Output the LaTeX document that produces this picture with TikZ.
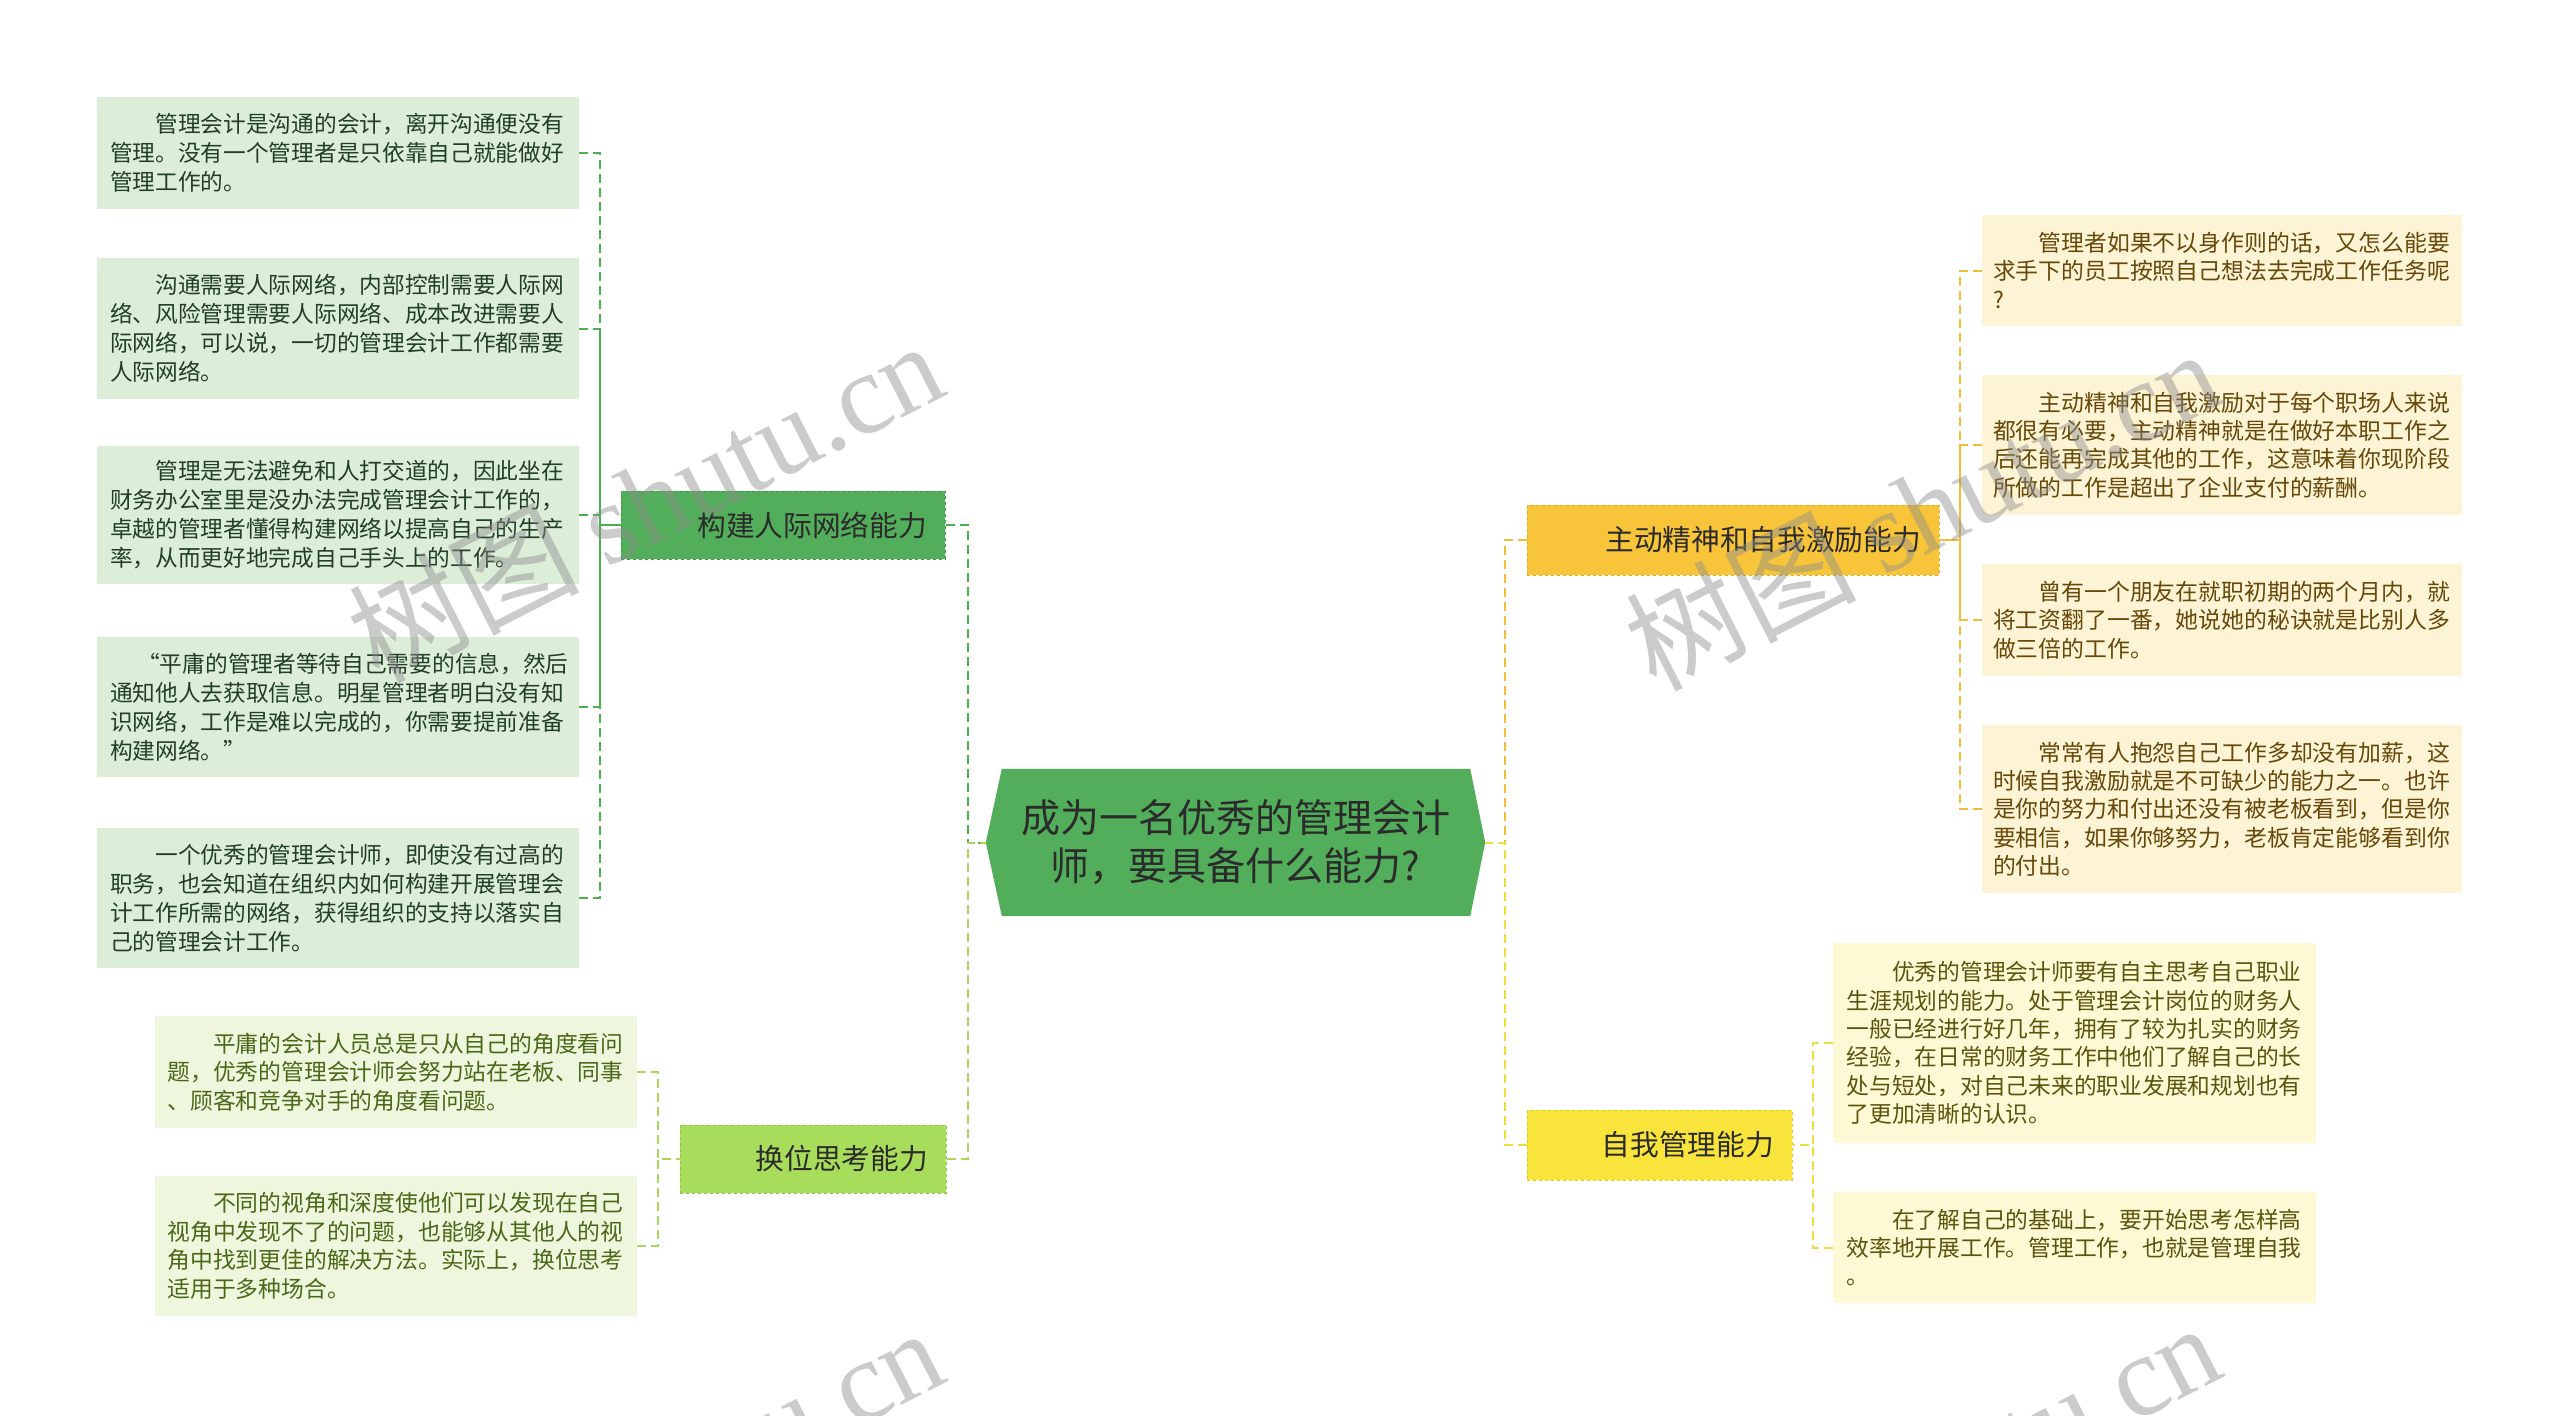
\documentclass[tikz,border=0pt]{standalone}
\usepackage{fontspec}
\setmainfont{Noto Sans CJK SC}
\newfontfamily\cjk{Noto Sans CJK SC}
\newfontfamily\wmserif{Liberation Serif}
\usetikzlibrary{backgrounds}
\definecolor{mainFill}{HTML}{52AE5A}
\definecolor{darkText}{HTML}{2B2B2B}
\definecolor{aFill}{HTML}{52AE5A}
\definecolor{aBorder}{HTML}{3F9A47}
\definecolor{aLeaf}{HTML}{DCEDD8}
\definecolor{aText}{HTML}{223D28}
\definecolor{aLine}{HTML}{4CAF50}
\definecolor{bFill}{HTML}{A8DD5C}
\definecolor{bBorder}{HTML}{8FC444}
\definecolor{bLeaf}{HTML}{EEF7DD}
\definecolor{bText}{HTML}{4A6818}
\definecolor{bLine}{HTML}{A8D85A}
\definecolor{cFill}{HTML}{F8C53A}
\definecolor{cBorder}{HTML}{E6AE20}
\definecolor{cLeaf}{HTML}{FDF3D5}
\definecolor{cText}{HTML}{664808}
\definecolor{cLine}{HTML}{F2BE3A}
\definecolor{dFill}{HTML}{F8E43A}
\definecolor{dBorder}{HTML}{E0CC20}
\definecolor{dLeaf}{HTML}{FDF9D5}
\definecolor{dText}{HTML}{5A540C}
\definecolor{dLine}{HTML}{EEDD3A}
\begin{document}
\begin{tikzpicture}[x=1pt,y=-1pt,
  leafbase/.style={rectangle, inner sep=0pt, align=left},
  aleaf/.style={leafbase, fill=aLeaf, text=aText, minimum width=482pt, text width=456pt, font=\fontsize{22.7}{29}\selectfont},
  bleaf/.style={leafbase, fill=bLeaf, text=bText, minimum width=482pt, text width=457pt, font=\fontsize{22.8}{28.5}\selectfont},
  cleaf/.style={leafbase, fill=cLeaf, text=cText, minimum width=480pt, text width=458pt, font=\fontsize{22.85}{28.3}\selectfont},
  dleaf/.style={leafbase, fill=dLeaf, text=dText, minimum width=483pt, text width=456pt, font=\fontsize{22.75}{28.3}\selectfont},
  branch/.style={rectangle, inner xsep=18pt, inner ysep=0pt, align=right, text=darkText, dashed, line width=1pt, font=\fontsize{28.7}{34}\selectfont},
  conn/.style={line width=2pt, dash pattern=on 9pt off 5pt},
  wm/.style={rotate=27, text=black!45, opacity=0.45, font=\fontsize{115}{120}\selectfont, inner sep=0pt}
]
\useasboundingbox (0,0) rectangle (2560,1416);
\begin{pgfonlayer}{background}
\fill[white] (0,0) rectangle (2560,1416);
\end{pgfonlayer}

% central node
\node[rectangle, minimum width=499pt, minimum height=147pt, inner sep=0pt, align=center, text=darkText, font=\fontsize{39}{48}\selectfont] (main) at (1235.5,842.5) {成为一名优秀的管理会计\\师，要具备什么能力?};
\begin{pgfonlayer}{background}
\fill[mainFill] (main.west) -- ([xshift=16pt]main.north west) -- ([xshift=-15pt]main.north east) -- (main.east) -- ([xshift=-15pt]main.south east) -- ([xshift=16pt]main.south west) -- cycle;
\end{pgfonlayer}

% branch nodes
\node[branch, fill=aFill, draw=aBorder, text width=288pt, minimum height=68pt] (bA) at (783,525) {构建人际网络能力};
\node[branch, fill=bFill, draw=bBorder, text width=230pt, minimum height=68pt] (bB) at (813,1159) {换位思考能力};
\node[branch, fill=cFill, draw=cBorder, text width=376pt, minimum height=70pt] (bC) at (1733,540) {主动精神和自我激励能力};
\node[branch, fill=dFill, draw=dBorder, text width=229pt, minimum height=70pt] (bD) at (1659.5,1145) {自我管理能力};

% leaves: 构建人际网络能力
\node[aleaf, minimum height=112pt] (a1) at (338,153) {\hspace*{2em}管理会计是沟通的会计，离开沟通便没有\\管理。没有一个管理者是只依靠自己就能做好\\管理工作的。};
\node[aleaf, minimum height=141pt] (a2) at (338,328.5) {\hspace*{2em}沟通需要人际网络，内部控制需要人际网\\络、风险管理需要人际网络、成本改进需要人\\际网络，可以说，一切的管理会计工作都需要\\人际网络。};
\node[aleaf, minimum height=138pt] (a3) at (338,515) {\hspace*{2em}管理是无法避免和人打交道的，因此坐在\\财务办公室里是没办法完成管理会计工作的，\\卓越的管理者懂得构建网络以提高自己的生产\\率，从而更好地完成自己手头上的工作。};
\node[aleaf, minimum height=140pt] (a4) at (338,707) {\hspace*{1.2em}“平庸的管理者等待自己需要的信息，然后\\通知他人去获取信息。明星管理者明白没有知\\识网络，工作是难以完成的，你需要提前准备\\构建网络。”};
\node[aleaf, minimum height=140pt] (a5) at (338,898) {\hspace*{2em}一个优秀的管理会计师，即使没有过高的\\职务，也会知道在组织内如何构建开展管理会\\计工作所需的网络，获得组织的支持以落实自\\己的管理会计工作。};

% leaves: 换位思考能力
\node[bleaf, minimum height=112pt] (b1) at (396,1072) {\hspace*{2em}平庸的会计人员总是只从自己的角度看问\\题，优秀的管理会计师会努力站在老板、同事\\、顾客和竞争对手的角度看问题。};
\node[bleaf, minimum height=140pt] (b2) at (396,1246) {\hspace*{2em}不同的视角和深度使他们可以发现在自己\\视角中发现不了的问题，也能够从其他人的视\\角中找到更佳的解决方法。实际上，换位思考\\适用于多种场合。};

% leaves: 主动精神和自我激励能力
\node[cleaf, minimum height=111pt] (c1) at (2222,270.5) {\hspace*{2em}管理者如果不以身作则的话，又怎么能要\\求手下的员工按照自己想法去完成工作任务呢\\?};
\node[cleaf, minimum height=140pt] (c2) at (2222,445) {\hspace*{2em}主动精神和自我激励对于每个职场人来说\\都很有必要，主动精神就是在做好本职工作之\\后还能再完成其他的工作，这意味着你现阶段\\所做的工作是超出了企业支付的薪酬。};
\node[cleaf, minimum height=112pt] (c3) at (2222,620) {\hspace*{2em}曾有一个朋友在就职初期的两个月内，就\\将工资翻了一番，她说她的秘诀就是比别人多\\做三倍的工作。};
\node[cleaf, minimum height=168pt] (c4) at (2222,809) {\hspace*{2em}常常有人抱怨自己工作多却没有加薪，这\\时候自我激励就是不可缺少的能力之一。也许\\是你的努力和付出还没有被老板看到，但是你\\要相信，如果你够努力，老板肯定能够看到你\\的付出。};

% leaves: 自我管理能力
\node[dleaf, minimum height=200pt] (d1) at (2074.5,1043) {\hspace*{2em}优秀的管理会计师要有自主思考自己职业\\生涯规划的能力。处于管理会计岗位的财务人\\一般已经进行好几年，拥有了较为扎实的财务\\经验，在日常的财务工作中他们了解自己的长\\处与短处，对自己未来的职业发展和规划也有\\了更加清晰的认识。};
\node[dleaf, minimum height=111pt] (d2) at (2074.5,1247.5) {\hspace*{2em}在了解自己的基础上，要开始思考怎样高\\效率地开展工作。管理工作，也就是管理自我\\。};

% connectors: main spine
\draw[conn, aLine] (bA.east) -- ++(22,0) |- (main.west);
\draw[conn, bLine] (bB.east) -- ++(21,0) |- (main.west);
\draw[conn, cLine] (bC.west) -- ++(-22,0) |- (main.east);
\draw[conn, dLine] (bD.west) -- ++(-22,0) |- (main.east);

% connectors: leaves
\foreach \n in {a1,a2,a3,a4,a5}{
  \draw[conn, aLine] (\n.east) -- ++(21,0) |- (bA.west);
}
\foreach \n in {b1,b2}{
  \draw[conn, bLine] (\n.east) -- ++(21,0) |- (bB.west);
}
\foreach \n in {c1,c2,c3,c4}{
  \draw[conn, cLine] (\n.west) -- ++(-22,0) |- (bC.east);
}
\foreach \n in {d1,d2}{
  \draw[conn, dLine] (\n.west) -- ++(-20,0) |- (bD.east);
}

% watermarks
\begin{scope}
\clip (0,0) rectangle (2560,1416);
\node[wm] (w1) at (645,500) {{\cjk 树图} {\wmserif shutu.cn}};
\node[wm] (w2) at (1922,508) {{\cjk 树图} {\wmserif shutu.cn}};
\node[wm] (w3) at (645,1487) {{\cjk 树图} {\wmserif shutu.cn}};
\node[wm] (w4) at (1922,1482) {{\cjk 树图} {\wmserif shutu.cn}};
\end{scope}
\end{tikzpicture}
\end{document}
